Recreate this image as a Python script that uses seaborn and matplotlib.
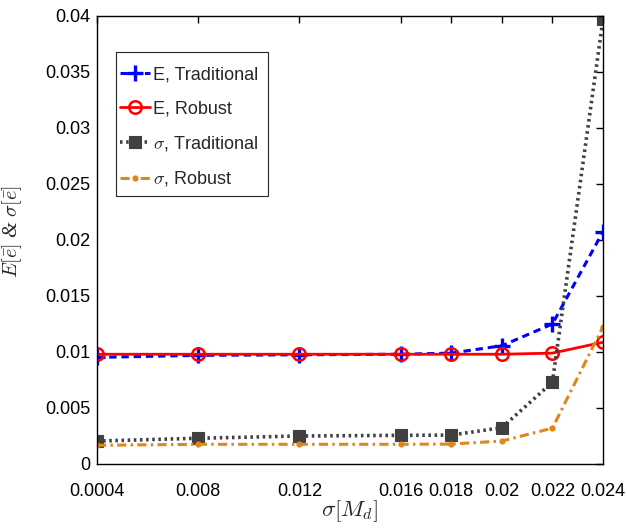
import matplotlib
matplotlib.use("Agg")
import matplotlib.pyplot as plt
from matplotlib.patches import Rectangle
import seaborn as sns
import pandas as pd

# Noise level of the disturbance model
sigma_md = [0.004, 0.008, 0.012, 0.016, 0.018, 0.020, 0.022, 0.024]
x_tick_labels = ["0.0004", "0.008", "0.012", "0.016", "0.018", "0.02", "0.022", "0.024"]

# Mean error and error spread for both designs
mean_traditional = [0.00952, 0.0097, 0.00975, 0.0098, 0.0099, 0.01056, 0.0125, 0.02074]
mean_robust = [0.0098, 0.0098, 0.0098, 0.0098, 0.0098, 0.0098, 0.0099, 0.01087]
std_traditional = [0.00205, 0.0023, 0.0025, 0.00256, 0.00258, 0.00324, 0.0073, 0.0397]
std_robust = [0.00167, 0.00176, 0.00176, 0.00176, 0.00178, 0.00205, 0.0032, 0.01226]

y_ticks = [0, 0.005, 0.01, 0.015, 0.02, 0.025, 0.03, 0.035, 0.04]
y_tick_labels = ["0", "0.005", "0.01", "0.015", "0.02", "0.025", "0.03", "0.035", "0.04"]

sns.set_style("white")
plt.rcParams["font.family"] = ["Liberation Sans", "DejaVu Sans"]
plt.rcParams["mathtext.fontset"] = "cm"

df = pd.DataFrame({
    "x": sigma_md,
    "mt": mean_traditional,
    "mr": mean_robust,
    "st": std_traditional,
    "sr": std_robust,
})

fig = plt.figure(figsize=(6.27, 5.28), dpi=100)
ax = fig.add_axes([97 / 627, 64 / 528, 506 / 627, 448 / 528])

sns.lineplot(data=df, x="x", y="mt", ax=ax, color="#0000ff", linewidth=2.2,
             linestyle=(0, (2.4, 1.6)), marker="+", markersize=11,
             markeredgewidth=2.4, markeredgecolor="#0000ff", label="E, Traditional")
sns.lineplot(data=df, x="x", y="mr", ax=ax, color="#ff0000", linewidth=2.0,
             linestyle="-", marker="o", markersize=9, markeredgewidth=1.8,
             markerfacecolor="none", markeredgecolor="#ff0000", label="E, Robust")
sns.lineplot(data=df, x="x", y="st", ax=ax, color="#404040", linewidth=2.6,
             linestyle=(0, (0.7, 1.0)), marker="s", markersize=8,
             markeredgewidth=0.8, markerfacecolor="#404040", markeredgecolor="#404040",
             label=r"$\sigma$, Traditional")
sns.lineplot(data=df, x="x", y="sr", ax=ax, color="#e0861a", linewidth=2.2,
             linestyle=(0, (3.0, 1.4, 0.8, 1.4)), marker="o", markersize=4.5,
             markeredgewidth=0, markerfacecolor="#e0861a", label=r"$\sigma$, Robust")

ax.set_xlim(sigma_md[0], sigma_md[-1])
ax.set_ylim(0, 0.04)
ax.set_xticks(sigma_md)
ax.set_xticklabels(x_tick_labels)
ax.set_yticks(y_ticks)
ax.set_yticklabels(y_tick_labels)

ax.tick_params(axis="both", which="both", direction="in", length=5, width=1,
               top=True, right=True, labelsize=13, colors="black", pad=5)
ax.tick_params(axis="x", pad=14)
for side in ["left", "right", "top", "bottom"]:
    ax.spines[side].set_visible(True)
    ax.spines[side].set_color("black")
    ax.spines[side].set_linewidth(1.0)

ax.set_xlabel(r"$\sigma[M_d]$", fontsize=16.5)
ax.xaxis.set_label_coords(0.5, -0.076)
ax.set_ylabel(r"$E[\bar{e}]$ & $\sigma[\bar{e}]$", fontsize=14.5,
              family="Liberation Serif", style="italic")
ax.yaxis.set_label_coords(-0.144, 0.518)

# Legend box drawn as its own frame so its padding can differ per side
ax.add_patch(Rectangle((0.0375, 0.598), 0.3005, 0.3216, transform=ax.transAxes,
                       facecolor="white", edgecolor="#262626", linewidth=0.8,
                       zorder=4.5))
leg = ax.legend(loc="upper left", bbox_to_anchor=(0.0455, 0.887), borderaxespad=0,
                fontsize=13, frameon=False, handlelength=1.65, handletextpad=0.2,
                labelspacing=0.92, borderpad=0)
leg.set_zorder(5)

fig.savefig("out.png", dpi=100, facecolor="white")
